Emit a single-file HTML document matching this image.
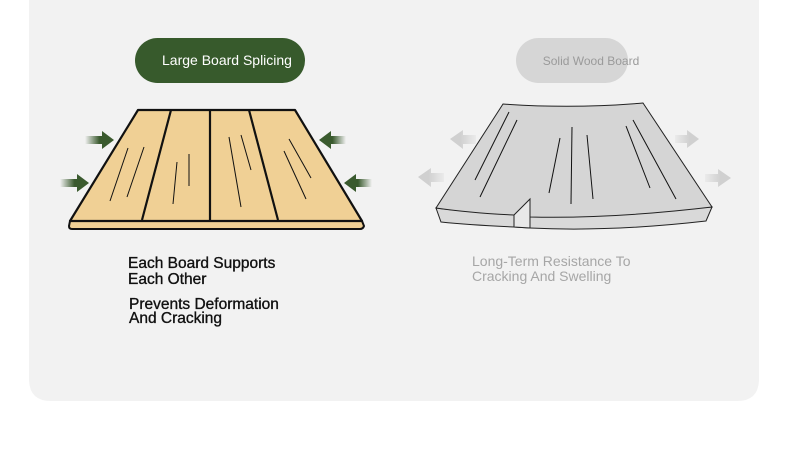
<!DOCTYPE html>
<html><head><meta charset="utf-8"><style>
html,body{margin:0;padding:0;background:#fff;}
body{width:790px;height:459px;position:relative;overflow:hidden;font-family:"Liberation Sans",sans-serif;}
svg{position:absolute;left:0;top:0;}
</style></head><body>
<svg width="790" height="459" viewBox="0 0 790 459" xmlns="http://www.w3.org/2000/svg">
<defs>
<linearGradient id="ga" x1="0" x2="1"><stop offset="0" stop-color="#3a5a2e" stop-opacity="0"/><stop offset="0.5" stop-color="#3a5a2e"/></linearGradient>
<linearGradient id="gb" x1="1" x2="0"><stop offset="0" stop-color="#3a5a2e" stop-opacity="0"/><stop offset="0.5" stop-color="#3a5a2e"/></linearGradient>
<linearGradient id="gc" x1="1" x2="0"><stop offset="0" stop-color="#cfcfcf" stop-opacity="0.2"/><stop offset="0.6" stop-color="#d0d0d0"/></linearGradient>
<linearGradient id="gd" x1="0" x2="1"><stop offset="0" stop-color="#cfcfcf" stop-opacity="0.2"/><stop offset="0.6" stop-color="#d0d0d0"/></linearGradient>
</defs>
<path d="M29 0 H759 V379 Q759 401 737 401 H51 Q29 401 29 379 Z" fill="#f2f2f2"/>
<rect x="135" y="38" width="170" height="45" rx="22.5" fill="#375a2c"/>
<text x="227" y="65" text-anchor="middle" font-size="14" fill="#fff">Large Board Splicing</text>
<rect x="516" y="38" width="112" height="45" rx="22.5" fill="#d6d6d6"/>
<text x="591" y="65" text-anchor="middle" font-size="12" fill="#9a9a9a">Solid Wood Board</text>

<path d="M70 221 H362 L364 226 Q363 229 360 229 H72 Q69 229 69 226 Z" fill="#f0d095" stroke="#111" stroke-width="2"/>
<path d="M138 110 H295 L362 221 H70 Z" fill="#f0d095" stroke="#111" stroke-width="2.2" stroke-linejoin="round"/>
<g stroke="#111" stroke-width="2.2"><line x1="171" y1="110" x2="142" y2="220"/><line x1="210" y1="110" x2="210" y2="220"/><line x1="249" y1="110" x2="278" y2="220"/></g>
<g stroke="#111" stroke-width="1"><line x1="128" y1="148" x2="110" y2="201"/><line x1="144" y1="147" x2="127" y2="197"/><line x1="177" y1="162" x2="173" y2="204"/><line x1="189" y1="154" x2="189" y2="186"/><line x1="229" y1="137" x2="241" y2="207"/><line x1="241" y1="135" x2="251" y2="170"/><line x1="284" y1="151" x2="306" y2="199"/><line x1="289" y1="139" x2="311" y2="178"/></g>
<g>
<path d="M85 136 H102 V131 L114 140 L102 149 V144 H85 Z" fill="url(#ga)"/>
<path d="M60 179 H77 V174 L89 183 L77 192 V187 H60 Z" fill="url(#ga)"/>
<path d="M346 136 H331 V131 L319 140 L331 149 V144 H346 Z" fill="url(#gb)"/>
<path d="M372 179 H356 V174 L344 183 L356 192 V187 H372 Z" fill="url(#gb)"/>
</g>

<path d="M436 208 Q530 220 712 207 L706 221 Q610 232 530 228 L514 227 Q470 225 441 222 Z" fill="#d9d9d9" stroke="#222" stroke-width="1"/>
<path d="M503 104 Q573 109 643 103 L712 207 Q610 219 530 217 L514 215 Q470 213 436 208 Z" fill="#d5d5d5" stroke="#222" stroke-width="1"/>
<path d="M514 215 L530 199 V228 L514 227 Z" fill="#e8e8e8" stroke="#222" stroke-width="1"/>
<g stroke="#111" stroke-width="1"><line x1="509" y1="112" x2="475" y2="180"/><line x1="517" y1="120" x2="480" y2="197"/><line x1="560" y1="138" x2="549" y2="193"/><line x1="572" y1="127" x2="571" y2="204"/><line x1="587" y1="135" x2="593" y2="199"/><line x1="626" y1="126" x2="650" y2="188"/><line x1="633" y1="120" x2="676" y2="199"/></g>
<g>
<path d="M476 144 H463 V149 L450 139 L463 130 V135 H476 Z" fill="url(#gc)"/>
<path d="M444 182 H431 V187 L418 177 L431 168 V173 H444 Z" fill="url(#gc)"/>
<path d="M675 135 H687 V130 L699 139 L687 148 V143 H675 Z" fill="url(#gd)"/>
<path d="M705 174 H718 V169 L731 178 L718 187 V182 H705 Z" fill="url(#gd)"/>
</g>

<g font-size="15.5" fill="#111" stroke="#111" stroke-width="0.35">
<text x="128" y="268">Each Board Supports</text>
<text x="128" y="284">Each Other</text>
<text x="129" y="309">Prevents Deformation</text>
<text x="129" y="323">And Cracking</text>
</g>
<g font-size="14" fill="#a6a6a6">
<text x="472" y="266">Long-Term Resistance To</text>
<text x="472" y="281">Cracking And Swelling</text>
</g>
</svg>
</body></html>
